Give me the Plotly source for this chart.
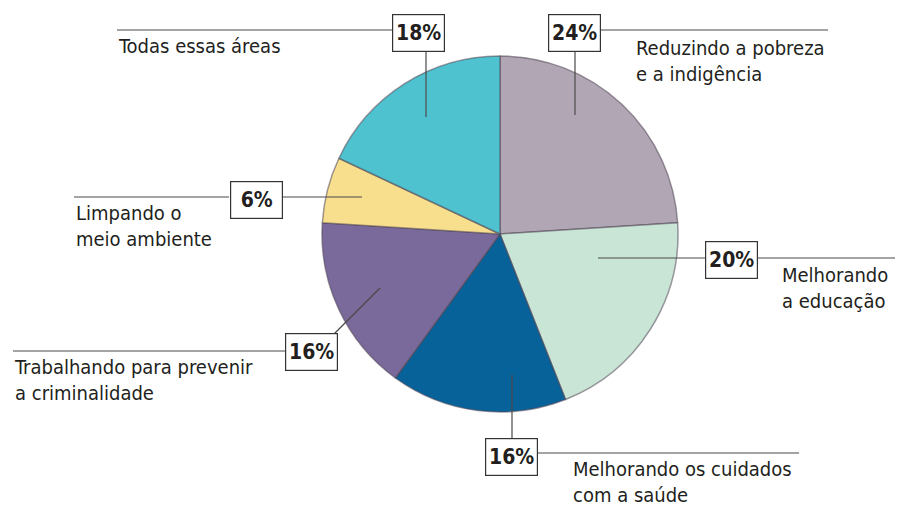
import plotly.graph_objects as go

# Survey shares by area of action, drawn clockwise from 12 o'clock
labels = [
    "Reduzindo a pobreza<br>e a indigência",
    "Melhorando<br>a educação",
    "Melhorando os cuidados<br>com a saúde",
    "Trabalhando para prevenir<br>a criminalidade",
    "Limpando o<br>meio ambiente",
    "Todas essas áreas",
]
values = [24, 20, 16, 16, 6, 18]
colors = ["#b1a7b4", "#c9e5d5", "#07629a", "#7a6a9b", "#f8df8e", "#4fc2cf"]

W, H = 897, 510
TXT = "#231f20"
FONT = "DejaVu Sans Condensed, Liberation Sans Narrow, sans-serif"


def px(x):
    return x / W


def py(y):
    return 1 - y / H


# pie placed so its centre sits at (500, 234) with a radius of 178 px
cx, cy, r = 500, 234, 178
fig = go.Figure(
    go.Pie(
        labels=labels,
        values=values,
        sort=False,
        direction="clockwise",
        rotation=0,
        marker=dict(colors=colors, line=dict(color="rgba(80,70,85,0.55)", width=1.5)),
        textinfo="none",
        hoverinfo="skip",
        domain=dict(x=[px(cx - r), px(cx + r)], y=[py(cy + r), py(cy - r)]),
        showlegend=False,
    )
)

# label layout: percent box centre, category text anchor, leader segments
boxes = [
    # (box cx, box cy, text x, text y (top), segments)
    (574, 33, 634, 34, [((600, 30), (828, 30)), ((575, 52), (575, 115))]),
    (731, 260, 780, 261, [((598, 258), (705, 258)), ((757, 258), (895, 258))]),
    (511, 457, 571, 455, [((512, 439), (512, 375)), ((537, 453), (799, 453))]),
    (311, 352, 12, 353, [((13, 351), (287, 351)), ((333, 335), (380, 288))]),
    (256, 200, 74, 199, [((74, 197), (229, 197)), ((283, 197), (362, 197))]),
    (418, 33, 116, 32, [((117, 30), (392, 30)), ((426, 52), (426, 117))]),
]

shapes = []
annotations = []
for lab, val, (bx, by, tx, ty, segs) in zip(labels, values, boxes):
    for (x0, y0), (x1, y1) in segs:
        shapes.append(
            dict(type="line", xref="paper", yref="paper",
                 x0=px(x0), y0=py(y0), x1=px(x1), y1=py(y1),
                 line=dict(color="#4a4a4a", width=1.2))
        )
    annotations.append(
        dict(x=px(bx), y=py(by), xref="paper", yref="paper",
             text=f"<b>{val}%</b>", showarrow=False,
             font=dict(family=FONT, size=21, color=TXT),
             width=47, height=32,
             bordercolor="#333333", borderwidth=1.2, borderpad=2,
             bgcolor="white", xanchor="center", yanchor="middle")
    )
    annotations.append(
        dict(x=px(tx), y=py(ty), xref="paper", yref="paper",
             text=lab, showarrow=False, align="left",
             font=dict(family=FONT, size=20, color=TXT),
             xanchor="left", yanchor="top")
    )

fig.update_layout(
    width=W, height=H,
    margin=dict(l=0, r=0, t=0, b=0),
    paper_bgcolor="white", plot_bgcolor="white",
    shapes=shapes, annotations=annotations,
)

fig.write_html("out.html")
